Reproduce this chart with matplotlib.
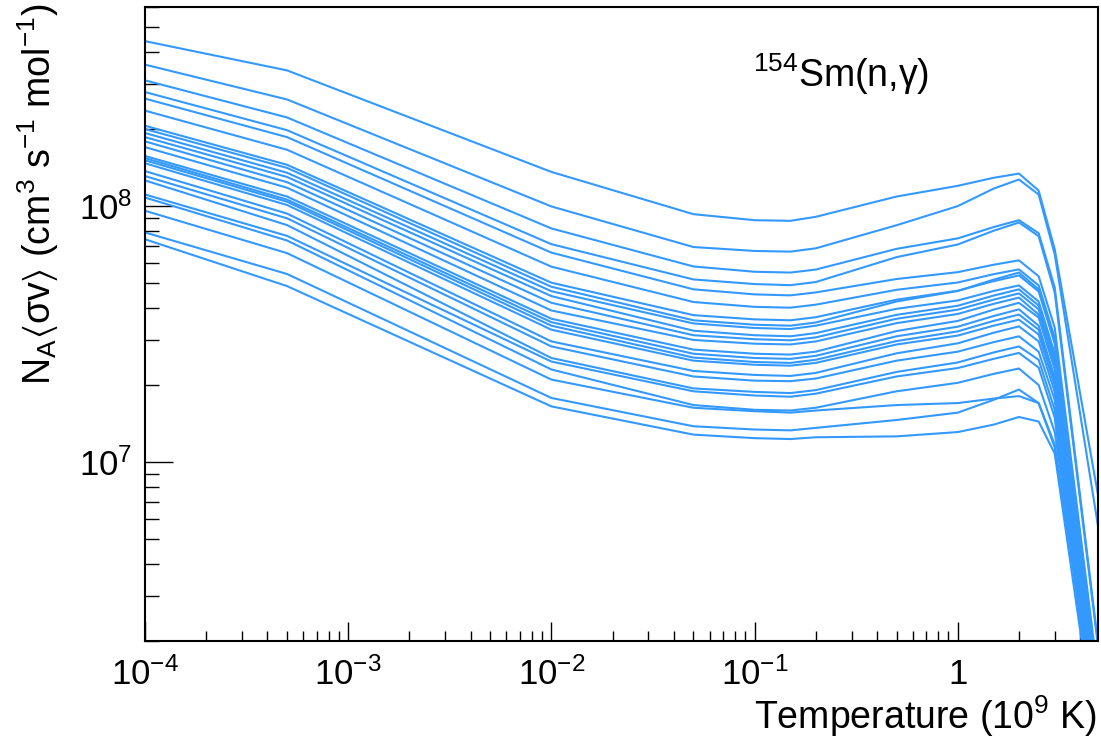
import matplotlib
matplotlib.use("Agg")
import matplotlib.pyplot as plt
from matplotlib.ticker import FixedLocator, FixedFormatter, LogLocator, NullFormatter

plt.rcParams.update({
    "font.family": ["Liberation Sans", "DejaVu Sans"],
    "mathtext.fontset": "custom",
    "mathtext.rm": "Liberation Sans",
    "mathtext.it": "Liberation Sans:italic",
    "mathtext.bf": "Liberation Sans:bold",
    "mathtext.sf": "Liberation Sans",
    "mathtext.fallback": "stixsans",
})

LINE = "#3399ff"

# temperature grid (10^9 K)
temp = [1e-4, 5e-4, 1e-2, 5e-2, 0.1, 0.15, 0.2, 0.5, 1.0, 1.5, 2.0, 2.5, 3.0, 5.0]

# N_A<sigma v> (cm^3 s^-1 mol^-1), one list per model combination
rate_01 = [4.41e8, 3.39e8, 1.36e8, 9.30e7, 8.81e7, 8.76e7, 9.08e7, 1.09e8, 1.20e8, 1.29e8, 1.34e8, 1.15e8, 6.78e7, 6.78e6]
rate_02 = [3.57e8, 2.61e8, 9.97e7, 6.92e7, 6.68e7, 6.64e7, 6.84e7, 8.42e7, 1.00e8, 1.17e8, 1.27e8, 1.11e8, 6.48e7, 5.08e6]
rate_03 = [3.10e8, 2.22e8, 8.18e7, 5.81e7, 5.54e7, 5.50e7, 5.65e7, 6.81e7, 7.48e7, 8.28e7, 8.81e7, 7.84e7, 4.81e7, 1.72e6]
rate_04 = [2.79e8, 1.98e8, 7.10e7, 5.17e7, 4.96e7, 4.91e7, 5.05e7, 6.32e7, 7.08e7, 8.01e7, 8.63e7, 7.63e7, 4.60e7, 1.67e6]
rate_05 = [2.63e8, 1.86e8, 6.58e7, 4.73e7, 4.52e7, 4.48e7, 4.60e7, 5.19e7, 5.52e7, 5.90e7, 6.14e7, 5.32e7, 3.35e7, 1.29e6]
rate_06 = [2.36e8, 1.66e8, 5.80e7, 4.22e7, 4.04e7, 4.01e7, 4.12e7, 4.71e7, 5.03e7, 5.42e7, 5.66e7, 4.90e7, 3.06e7, 1.20e6]
rate_07 = [2.06e8, 1.45e8, 5.02e7, 3.75e7, 3.61e7, 3.58e7, 3.68e7, 4.31e7, 4.67e7, 5.09e7, 5.36e7, 4.64e7, 2.90e7, 1.11e6]
rate_08 = [2.00e8, 1.41e8, 4.84e7, 3.58e7, 3.44e7, 3.41e7, 3.51e7, 4.24e7, 4.66e7, 5.16e7, 5.50e7, 4.73e7, 2.96e7, 1.01e6]
rate_09 = [1.93e8, 1.35e8, 4.65e7, 3.48e7, 3.34e7, 3.31e7, 3.41e7, 3.97e7, 4.28e7, 4.66e7, 4.90e7, 4.24e7, 2.65e7, 9.47e5]
rate_10 = [1.86e8, 1.30e8, 4.45e7, 3.26e7, 3.13e7, 3.10e7, 3.19e7, 3.76e7, 4.08e7, 4.47e7, 4.73e7, 4.09e7, 2.56e7, 8.66e5]
rate_11 = [1.79e8, 1.24e8, 4.19e7, 3.13e7, 3.02e7, 2.99e7, 3.07e7, 3.63e7, 3.94e7, 4.31e7, 4.56e7, 3.95e7, 2.47e7, 7.98e5]
rate_12 = [1.70e8, 1.18e8, 3.91e7, 3.00e7, 2.90e7, 2.88e7, 2.96e7, 3.49e7, 3.79e7, 4.15e7, 4.39e7, 3.77e7, 2.38e7, 7.22e5]
rate_13 = [1.57e8, 1.09e8, 3.63e7, 2.75e7, 2.65e7, 2.63e7, 2.70e7, 3.25e7, 3.56e7, 3.94e7, 4.19e7, 3.67e7, 2.30e7, 9.91e5]
rate_14 = [1.54e8, 1.06e8, 3.52e7, 2.65e7, 2.55e7, 2.53e7, 2.60e7, 3.10e7, 3.38e7, 3.72e7, 3.95e7, 3.41e7, 2.14e7, 6.78e5]
rate_15 = [1.51e8, 1.04e8, 3.41e7, 2.56e7, 2.46e7, 2.44e7, 2.51e7, 2.97e7, 3.24e7, 3.56e7, 3.77e7, 3.29e7, 2.06e7, 9.30e5]
rate_16 = [1.47e8, 1.01e8, 3.29e7, 2.49e7, 2.40e7, 2.38e7, 2.44e7, 2.88e7, 3.12e7, 3.41e7, 3.60e7, 3.15e7, 1.99e7, 6.25e5]
rate_17 = [1.37e8, 9.35e7, 2.96e7, 2.27e7, 2.19e7, 2.17e7, 2.23e7, 2.66e7, 2.91e7, 3.20e7, 3.39e7, 2.96e7, 1.88e7, 8.74e5]
rate_18 = [1.31e8, 8.96e7, 2.83e7, 2.16e7, 2.08e7, 2.07e7, 2.12e7, 2.49e7, 2.70e7, 2.94e7, 3.10e7, 2.70e7, 1.75e7, 5.98e5]
rate_19 = [1.26e8, 8.43e7, 2.55e7, 1.94e7, 1.88e7, 1.86e7, 1.91e7, 2.25e7, 2.45e7, 2.68e7, 2.83e7, 2.51e7, 1.60e7, 7.77e5]
rate_20 = [1.11e8, 7.65e7, 2.47e7, 1.89e7, 1.82e7, 1.80e7, 1.85e7, 2.16e7, 2.33e7, 2.53e7, 2.67e7, 2.34e7, 1.49e7, 5.87e5]
rate_21 = [1.08e8, 7.34e7, 2.30e7, 1.67e7, 1.60e7, 1.59e7, 1.63e7, 1.89e7, 2.04e7, 2.21e7, 2.32e7, 2.00e7, 1.31e7, 8.50e5]
rate_22 = [9.59e7, 6.55e7, 2.10e7, 1.63e7, 1.58e7, 1.56e7, 1.59e7, 1.67e7, 1.70e7, 1.77e7, 1.81e7, 1.70e7, 1.17e7, 7.49e5]
rate_23 = [7.89e7, 5.43e7, 1.78e7, 1.38e7, 1.34e7, 1.33e7, 1.36e7, 1.46e7, 1.56e7, 1.75e7, 1.92e7, 1.70e7, 1.14e7, 8.27e5]
rate_24 = [7.42e7, 4.87e7, 1.65e7, 1.28e7, 1.24e7, 1.23e7, 1.25e7, 1.26e7, 1.31e7, 1.40e7, 1.50e7, 1.44e7, 1.08e7, 6.42e5]

rates = [rate_01, rate_02, rate_03, rate_04, rate_05, rate_06, rate_07, rate_08,
         rate_09, rate_10, rate_11, rate_12, rate_13, rate_14, rate_15, rate_16,
         rate_17, rate_18, rate_19, rate_20, rate_21, rate_22, rate_23, rate_24]

x_major = [1e-4, 1e-3, 1e-2, 1e-1, 1.0]
x_labels = [r"$10^{-4}$", r"$10^{-3}$", r"$10^{-2}$", r"$10^{-1}$", "1"]
y_major = [1e7, 1e8]
y_labels = [r"$10^{7}$", r"$10^{8}$"]

fig = plt.figure(figsize=(11.01, 7.37), dpi=100)
ax = fig.add_axes([0.1317, 0.1303, 0.8656, 0.8603])

for r in rates:
    ax.plot(temp, r, color=LINE, lw=1.5)

ax.set_xscale("log")
ax.set_yscale("log")
ax.set_xlim(1e-4, 4.9)
ax.set_ylim(2e6, 6e8)

ax.xaxis.set_major_locator(FixedLocator(x_major))
ax.xaxis.set_major_formatter(FixedFormatter(x_labels))
ax.xaxis.set_minor_locator(LogLocator(base=10, subs=range(2, 10), numticks=20))
ax.xaxis.set_minor_formatter(NullFormatter())
ax.yaxis.set_major_locator(FixedLocator(y_major))
ax.yaxis.set_major_formatter(FixedFormatter(y_labels))
ax.yaxis.set_minor_locator(LogLocator(base=10, subs=range(2, 10), numticks=20))
ax.yaxis.set_minor_formatter(NullFormatter())

ax.tick_params(axis="both", which="both", direction="in", top=False, right=False,
               labelsize=25, width=1.0, color="black")
ax.tick_params(axis="x", which="major", length=14, pad=12)
ax.tick_params(axis="x", which="minor", length=7)
ax.tick_params(axis="y", which="major", length=20, pad=9)
ax.tick_params(axis="y", which="minor", length=10)
for sp in ax.spines.values():
    sp.set_linewidth(1.5)

fig.text(0.996, 0.011, r"Temperature (10$^{9}$ K)", ha="right", va="baseline",
         fontsize=27)
fig.text(0.034, 0.995,
         r"N$_{\rm A}$$\langle$σv$\rangle$ (cm$^{3}$ s$^{-1}$ mol$^{-1}$)",
         rotation=90, ha="center", va="top", fontsize=27)
fig.text(0.684, 0.882, r"$^{154}$Sm(n,γ)", ha="left", va="baseline", fontsize=27)

fig.savefig("out.png", dpi=100)
